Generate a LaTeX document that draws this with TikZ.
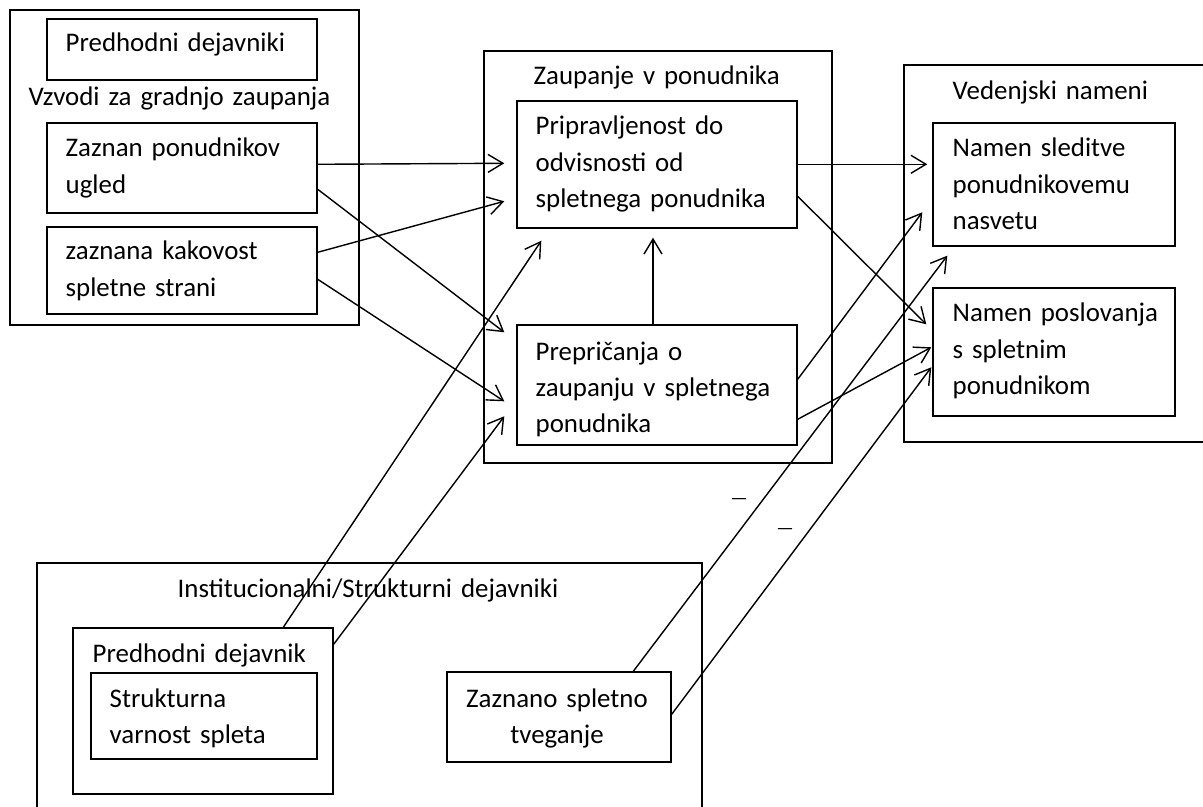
\documentclass[tikz,border=0pt]{standalone}
\usepackage{fontspec}
\setmainfont{Carlito}
\usetikzlibrary{arrows.meta,fit,calc}

\begin{document}
\begin{tikzpicture}[x=0.02cm,y=-0.02cm,line width=0.8pt,font=\fontsize{15.3}{20.7}\selectfont]
\tikzstyle{box}=[draw,inner sep=0pt]
\tikzstyle{txt}=[anchor=base west,inner sep=0pt,text width=10cm,align=left]
\tikzstyle{ctxt}=[anchor=base,inner sep=0pt,text width=4.4cm,align=center]
\tikzstyle{minus}=[inner sep=0pt,font=\fontsize{11}{13}\selectfont]
\tikzstyle{arr}=[-{Straight Barb[length=0.3cm,width=0.36cm]}]
\clip (0,0) rectangle (1203,807);
% groups and boxes
\node(levers)[box,fit={(10,10) (359,325)}]{};
\node(antecA)[box,fit={(47,19) (317,80)}]{};
\node(reput)[box,fit={(47,123) (317,213)}]{};
\node(quality)[box,fit={(47,227) (317,314)}]{};
\node(trust)[box,fit={(484,51) (832,463)}]{};
\node(willing)[box,fit={(517,101) (797,228)}]{};
\node(belief)[box,fit={(517,325) (797,445)}]{};
\node(intent)[box,fit={(904,65) (1220,442)}]{};
\node(follow)[box,fit={(933,123) (1175,246)}]{};
\node(business)[box,fit={(933,288) (1175,416)}]{};
\node(inst)[box,fit={(37,563) (702,830)}]{};
\node(antecB)[box,fit={(73,628) (333,794)}]{};
\node(security)[box,fit={(91,673) (317,759)}]{};
\node(risk)[box,fit={(447,672) (671,762)}]{};
% texts
\node(antecAtxt)[txt] at (65,52){Predhodni dejavniki};
\node(leverstxt)[txt] at (28,106){Vzvodi za gradnjo zaupanja};
\node(reputtxt)[txt] at (65,157){Zaznan ponudnikov\\ugled};
\node(qualitytxt)[txt] at (65,260){zaznana kakovost\\spletne strani};
\node(trusttxt)[txt] at (533,85){Zaupanje v ponudnika};
\node(willingtxt)[txt] at (535,135){Pripravljenost do\\odvisnosti od\\spletnega ponudnika};
\node(belieftxt)[txt] at (535,360){Prepričanja o\\zaupanju v spletnega\\ponudnika};
\node(intenttxt)[txt] at (952,100){Vedenjski nameni};
\node(followtxt)[txt] at (952,157){Namen sleditve\\ponudnikovemu\\nasvetu};
\node(businesstxt)[txt] at (952,322){Namen poslovanja\\s spletnim\\ponudnikom};
\node(insttxt)[txt] at (177,597){Institucionalni/Strukturni dejavniki};
\node(antecBtxt)[txt] at (92,662){Predhodni dejavnik};
\node(securitytxt)[txt] at (109,707){Strukturna\\varnost spleta};
\node(risktxt)[ctxt] at (557,707){Zaznano spletno\\tveganje};
\node(minusA)[minus] at (739,502){—};
\node(minusB)[minus] at (785,532){—};
% connectors
\draw[arr] ($(reput.north east)+(0,42)$) -- ($(willing.north west)+(-12,63)$);
\draw[arr] ($(quality.north east)+(0,26)$) -- ($(willing.north west)+(-12,101)$);
\draw[arr] ($(reput.north east)+(0,67)$) -- ($(belief.north west)+(-12,8)$);
\draw[arr] ($(quality.north east)+(0,53)$) -- ($(belief.north west)+(-12,77)$);
\draw[arr] ($(antecB.north west)+(211,0)$) -- ($(willing.south west)+(25,12)$);
\draw[arr] ($(antecB.north east)+(0,17)$) -- ($(belief.north west)+(-12,92)$);
\draw[arr] ($(belief.north)+(-4,0)$) -- ($(willing.south)+(-4,9)$);
\draw[arr] ($(willing.north east)+(0,64)$) -- ($(follow.north west)+(-5,42)$);
\draw[arr] ($(willing.north east)+(0,96)$) -- ($(business.north west)+(-6,37)$);
\draw[arr] ($(belief.north east)+(0,55)$) -- ($(follow.north west)+(-10,90)$);
\draw[arr] ($(belief.north east)+(0,95)$) -- ($(business.north west)+(-1,60)$);
\draw[arr] ($(risk.north west)+(187,0)$) -- ($(follow.south west)+(15,9)$);
\draw[arr] ($(risk.north east)+(0,43)$) -- ($(business.north west)+(-1,80)$);
\end{tikzpicture}
\end{document}
